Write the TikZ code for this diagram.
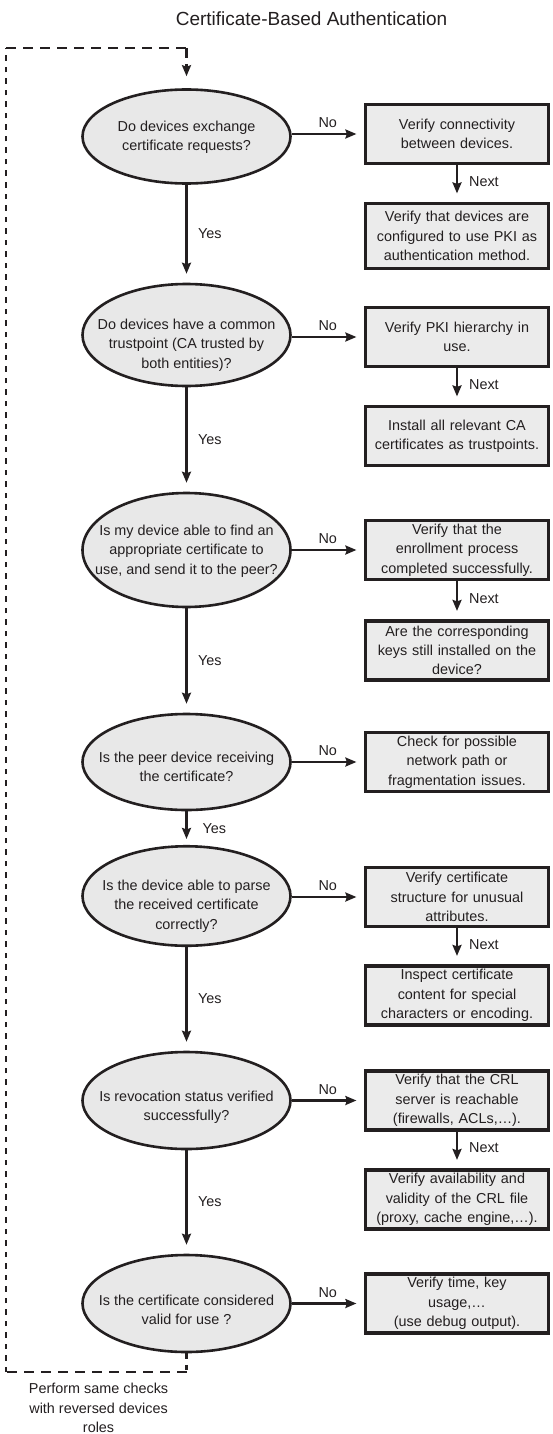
\documentclass[tikz,border=0pt]{standalone}
\usepackage{fontspec}
\setmainfont{Liberation Sans}
\usetikzlibrary{arrows.meta,shapes.geometric}
\definecolor{ink}{HTML}{231F20}
\definecolor{boxfill}{HTML}{EBEBEB}
\definecolor{ellfill}{HTML}{E8E8E8}

\begin{document}
\begin{tikzpicture}[x=1pt,y=-1pt,
  txt/.style={font=\fontsize{14.4}{19.3}\selectfont, text=ink, align=center},
  question/.style={ellipse, draw=ink, line width=2.6pt, fill=ellfill,
    minimum width=208pt, minimum height=94pt, inner sep=0pt},
  qtext/.style={txt, inner sep=0pt},
  action/.style={txt, draw=ink, line width=3.2pt, fill=boxfill,
    minimum width=183pt, minimum height=59pt, inner sep=0pt, text width=180pt},
  tip/.style={-{Stealth[length=11pt,width=9pt,inset=1.5pt]}},
  flow/.style={draw=ink, line width=2.2pt, tip},
  loopv/.style={draw=ink, line width=2.2pt, dash pattern=on 5.5pt off 6pt},
  looph/.style={draw=ink, line width=2.2pt, dash pattern=on 10pt off 7pt},
  lbl/.style={txt, inner sep=0pt},
]
\fill[white] (0,0) rectangle (552,1434);
\useasboundingbox (0,0) rectangle (552,1434);

% title
\node[txt, font=\fontsize{19}{23}\selectfont, inner sep=0pt] (title) at (311.5,19) {Certificate-Based Authentication};

% questions (left column)
\node[question] (q1) at (186.5,136.5) {};
\node[question, minimum height=102pt] (q2) at (186.5,335) {};
\node[question, minimum height=114pt] (q3) at (186.5,550) {};
\node[question, minimum height=96pt] (q4) at (186.5,762) {};
\node[question, minimum height=99.5pt] (q5) at (186.5,896) {};
\node[question, minimum height=97pt] (q6) at (186.5,1100.5) {};
\node[question, minimum height=97pt] (q7) at (186.5,1303.5) {};

\node[qtext] (q1t) at (186.5,137) {Do devices exchange\\certificate requests?};
\node[qtext] (q2t) at (186.5,345) {Do devices have a common\\trustpoint (CA trusted by\\both entities)?};
\node[qtext] (q3t) at (186.5,551) {Is my device able to find an\\appropriate certificate to\\use, and send it to the peer?};
\node[qtext] (q4t) at (186.5,767) {Is the peer device receiving\\the certificate?};
\node[qtext] (q5t) at (186.5,906) {Is the device able to parse\\the received certificate\\correctly?};
\node[qtext] (q6t) at (186.5,1107) {Is revocation status verified\\successfully?};
\node[qtext] (q7t) at (186.5,1310) {Is the certificate considered\\valid for use ?};

% actions (right column)
\node[action] (a1) at (457,134) {Verify connectivity\\between devices.};
\node[action, minimum height=65pt] (a2) at (457,236) {Verify that devices are\\configured to use PKI as\\authentication method.};
\node[action] (a3) at (457,337) {Verify PKI hierarchy in\\use.};
\node[action] (a4) at (457,436) {Install all relevant CA\\certificates as trustpoints.};
\node[action] (a5) at (457,550) {Verify that the\\enrollment process\\completed successfully.};
\node[action] (a6) at (457,650.5) {Are the corresponding\\keys still installed on the\\device?};
\node[action] (a7) at (457,762) {Check for possible\\network path or\\fragmentation issues.};
\node[action] (a8) at (457,897) {Verify certificate\\structure for unusual\\attributes.};
\node[action] (a9) at (457,995.5) {Inspect certificate\\content for special\\characters or encoding.};
\node[action] (a10) at (457,1100.5) {Verify that the CRL\\server is reachable\\(firewalls, ACLs,…).};
\node[action] (a11) at (457,1199.5) {Verify availability and\\validity of the CRL file\\(proxy, cache engine,…).};
\node[action] (a12) at (457,1303.5) {Verify time, key\\usage,…\\(use debug output).};

% Yes branches
\draw[flow, shorten >=9pt] (q1.south) -- (q2.north) node[lbl, midway, anchor=west, xshift=10.5pt] (y1) {Yes};
\draw[flow, shorten >=9pt] (q2.south) -- (q3.north) node[lbl, midway, anchor=west, xshift=10.5pt] (y2) {Yes};
\draw[flow, shorten >=9pt] (q3.south) -- (q4.north) node[lbl, midway, anchor=west, xshift=10.5pt] (y3) {Yes};
\draw[flow, shorten >=6pt] (q4.south) -- (q5.north) node[lbl, midway, anchor=west, xshift=15pt] (y4) {Yes};
\draw[flow, shorten >=9pt] (q5.south) -- (q6.north) node[lbl, midway, anchor=west, xshift=10.5pt] (y5) {Yes};
\draw[flow, shorten >=9pt] (q6.south) -- (q7.north) node[lbl, midway, anchor=west, xshift=10.5pt] (y6) {Yes};

% No branches
\foreach \q/\a in {q1/a1,q2/a3,q3/a5,q4/a7,q5/a8,q6/a10,q7/a12}{
  \draw[flow, shorten >=7.5pt] (\a.west -| \q.east) -- (\a.west);
  \node[lbl] (no-\q) at ([shift={(36,-11)}]\a.west -| \q.east) {No};
}

% Next steps
\foreach \u/\v in {a1/a2,a3/a4,a5/a6,a8/a9,a10/a11}{
  \draw[flow, shorten >=8.5pt] (\u.south) -- (\v.north)
    node[lbl, midway, anchor=west, xshift=11pt, yshift=2pt] (nx-\u) {Next};
}

% loop back: same checks with the roles of the devices swapped
\coordinate (lb) at (186.5,1372);
\coordinate (lc) at (6.3,1372);
\coordinate (lt) at (6.3,48);
\coordinate (rt) at (186.5,48);
\draw[loopv] (q7.south) -- (lb);
\draw[looph] (lb) -- (lc);
\draw[loopv] (lc) -- (lt);
\draw[looph] (lt) -- (rt);
\draw[draw=ink, line width=2.2pt, dash pattern=on 10pt off 6pt, tip, shorten >=12pt] (rt) -- (q1.north);

\node[txt, inner sep=0pt] (note) at (98.6,1408) {Perform same checks\\with reversed devices\\roles};
\end{tikzpicture}
\end{document}
